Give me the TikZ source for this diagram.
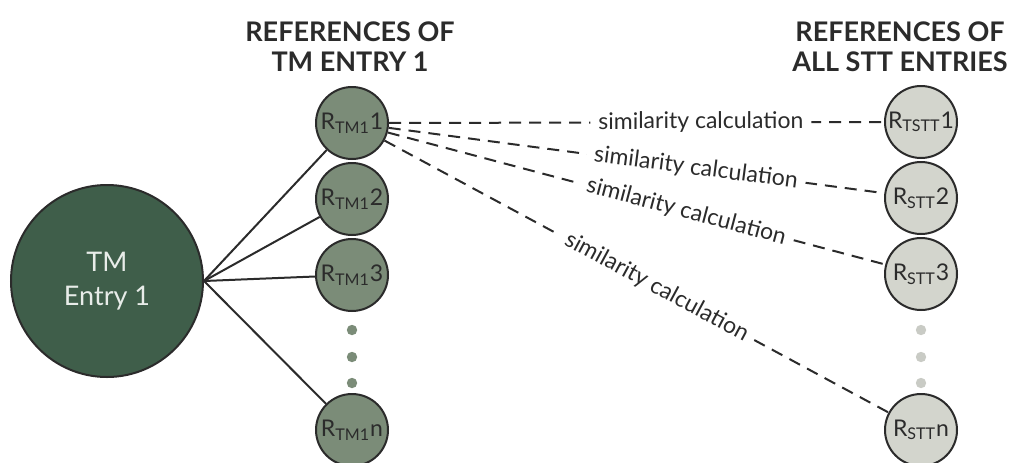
\documentclass[tikz,border=0pt]{standalone}
\usepackage{fontspec}
\setmainfont{Lato}
\usetikzlibrary{positioning}

\definecolor{entrygreen}{HTML}{3F5E4A}
\definecolor{refgreen}{HTML}{7B8C78}
\definecolor{sttgrey}{HTML}{D3D5CD}
\definecolor{dotgrey}{HTML}{C9CBC5}
\definecolor{inkgrey}{HTML}{2B2B2B}

\begin{document}
\begin{tikzpicture}[
    x=0.5pt, y=-0.5pt,
    entry/.style={circle, draw=inkgrey, line width=1pt, fill=entrygreen,
    minimum size=96pt, align=center, text=white!88!entrygreen,
    font=\fontsize{13.5}{17}\selectfont},
    tmref/.style={circle, draw=inkgrey, line width=1pt, fill=refgreen,
    minimum size=36pt, inner sep=0pt, text=inkgrey,
    font=\fontsize{11.5}{13}\selectfont},
    sttref/.style={tmref, fill=sttgrey},
    heading/.style={align=center, text=inkgrey,
    font=\bfseries\fontsize{13.5}{15}\selectfont},
    link/.style={inkgrey, line width=1pt},
    simlink/.style={inkgrey, line width=1pt, dash pattern=on 6pt off 4pt},
    simlabel/.style={sloped, fill=white, inner xsep=4pt, inner ysep=0.5pt,
    text=inkgrey, font=\fontsize{11.5}{12}\selectfont}
]
\useasboundingbox (0,0) rectangle (1012,462);
\clip (0,0) rectangle (1012,462);

% ---------------- TM ENTRY ----------------
\node[entry] (tm) at (107,281) {TM\\Entry 1};

\node[tmref] (r1) at (352,123) {R\textsubscript{TM1}1};
\node[tmref, below=1pt of r1] (r2) {R\textsubscript{TM1}2};
\node[tmref, below=1pt of r2] (r3) {R\textsubscript{TM1}3};
\node[tmref] (rn) at (352,430) {R\textsubscript{TM1}n};

\foreach \y in {330,357,383}
    \fill[refgreen] (352,\y) circle (2.6pt);

\draw[link] (tm.east)--(r1);
\draw[link] (tm.east)--(r2);
\draw[link] (tm.east)--(r3);
\draw[link] (tm.east)--(rn);

% Label
\node[heading] (htm) at (350,47) {REFERENCES OF\\TM ENTRY 1};

% ---------------- STT ENTRIES ----------------
\node[sttref] (s1) at (921,122) {R\textsubscript{TSTT}1};
\node[sttref, below=1pt of s1] (s2) {R\textsubscript{STT}2};
\node[sttref, below=1pt of s2] (s3) {R\textsubscript{STT}3};
\node[sttref] (sn) at (921,430) {R\textsubscript{STT}n};

\foreach \y in {330,357,383}
    \fill[dotgrey] (921,\y) circle (2.6pt);

\draw[simlink] (r1)--node[simlabel, pos=0.63] {similarity calculation} (s1);
\draw[simlink] (r1)--node[simlabel, pos=0.62] {similarity calculation} (s2);
\draw[simlink] (r1)--node[simlabel, pos=0.60] {similarity calculation} (s3);
\draw[simlink] (r1)--node[simlabel, pos=0.54] {similarity calculation} (sn);

% Label
\node[heading] (hstt) at (900,47) {REFERENCES OF\\ALL STT ENTRIES};

\end{tikzpicture}
\end{document}
